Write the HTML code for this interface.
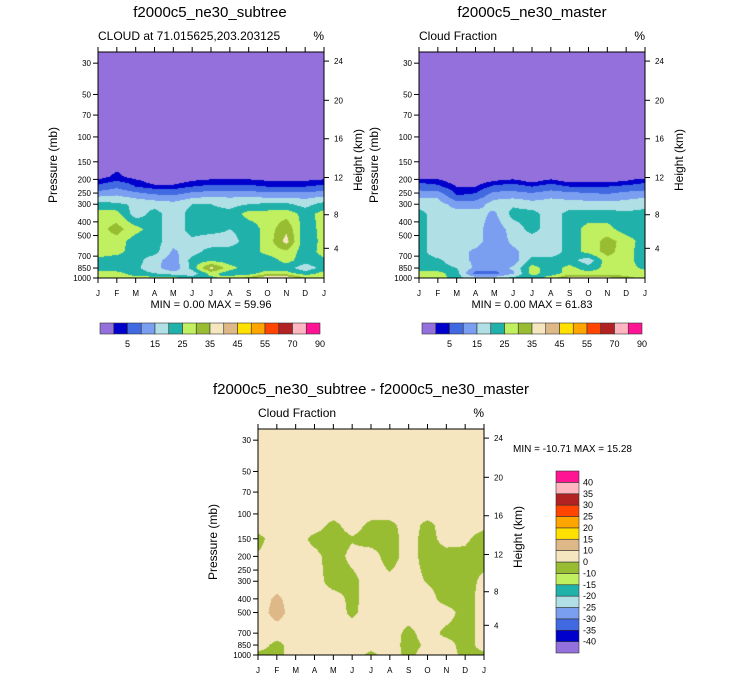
<!DOCTYPE html>
<html><head><meta charset="utf-8">
<style>
body{margin:0;background:#fff;width:733px;height:680px;overflow:hidden;position:relative;font-family:"Liberation Sans",sans-serif}
canvas{position:absolute}
svg{position:absolute;left:0;top:0}
</style></head>
<body>
<canvas id="c1" width="226" height="226" style="left:98px;top:52px"></canvas>
<canvas id="c2" width="226" height="226" style="left:419px;top:52px"></canvas>
<canvas id="c3" width="226" height="226" style="left:258px;top:429px"></canvas>
<svg id="s" width="733" height="680"></svg>
<script>
const months = ["J","F","M","A","M","J","J","A","S","O","N","D","J"];
const pTicks = [30,50,70,100,150,200,250,300,400,500,700,850,1000];
const hTicks = [4,8,12,16,20,24];
const hTickP = [616,356,194,103,55,29];
const topLevels = [2,5,10,15,20,25,30,35,40,45,50,55,60,70,80];
const topColors = ["#9370db","#0000cd","#4169e1","#7b9ff0","#b0e0e6","#20b2aa","#c0ef60","#98bd32","#f5e6c0","#deb887","#ffe000","#ffa500","#ff4500","#b22222","#ffb6c1","#ff1493"];
const topLabels = ["5","15","25","35","45","55","70","90"];
const diffLevels = [-40,-35,-30,-25,-20,-15,-10,0,10,15,20,25,30,35,40];
const diffLabels = ["-40","-35","-30","-25","-20","-15","-10","0","10","15","20","25","30","35","40"];
const gridP = [25,150,190,205,225,260,300,350,450,550,650,750,850,925,1000];
const subtree = [
[0,0,0,0,0,0,0,0,0,0,0,0,0],
[0,0,0,0,0,0,0,0,0,0,0,0,0],
[0,3,0,0,0,0,0,0,0,0,0,0,0],
[3,5,3,0,0,2,3,3,3,2,2,2,3],
[6,9,5,3,3,5,6,6,6,5,5,5,6],
[14,15,13,11,10,13,14,14,14,13,13,13,14],
[22,21,19,18,17,20,20,18,20,21,21,18,22],
[27,27,17,22,17,22,22,22,27,27,28,23,27],
[28,32,27,22,17,22,22,20,22,27,34,22,27],
[28,28,22,22,17,19,17,18,22,27,37,21,27],
[27,27,22,22,14,18,22,22,22,27,29,22,27],
[24,22,22,17,12,22,24,22,22,22,27,22,24],
[22,21,21,17,11,22,37,27,22,22,22,17,22],
[27,27,22,20,17,17,27,22,22,28,27,22,27],
[28,28,27,27,27,22,24,27,32,40,40,30,28]];
const master = [
[0,0,0,0,0,0,0,0,0,0,0,0,0],
[0,0,0,0,0,0,0,0,0,0,0,0,0],
[0,0,0,0,0,0,0,0,0,0,0,0,0],
[4,3,0,0,2,3,1,3,1,1,1,2,4],
[7,6,2,2,6,7,5,7,5,5,5,6,7],
[14,14,5,6,13,13,12,14,13,12,11,13,14],
[18,17,13,13,17,19,17,17,17,17,17,17,18],
[22,17,17,17,14,22,22,17,22,22,22,21,22],
[22,17,17,17,12,17,22,17,22,27,27,22,22],
[22,17,17,17,12,16,17,17,22,27,32,28,22],
[22,17,17,14,12,14,17,17,22,27,32,27,22],
[22,21,17,14,12,12,22,22,22,17,28,27,22],
[22,22,20,14,12,16,27,22,27,22,27,27,24],
[27,27,22,8,8,14,27,22,27,27,27,27,27],
[28,28,22,17,17,22,22,27,37,37,37,32,28]];
const diffP = [25,100,120,150,200,300,400,500,700,850,1000];
const diff = [
[5,5,5,5,5,5,5,5,5,5,5,5,5],
[5,5,5,5,4,5,4,4,5,4,5,5,5],
[5,5,5,5,-3,5,-3,-3,5,-3,5,5,3],
[-3,5,5,-3,-5,-1,-5,-5,5,-5,5,2,-5],
[1,5,5,3,-5,3,5,-5,5,-5,-5,-3,-5],
[5,5,5,5,-5,-3,5,3,5,-1,-5,-5,3],
[5,12,5,5,5,-3,5,5,5,5,-5,-5,5],
[5,14,5,5,5,-2,5,5,5,5,5,-5,5],
[5,5,5,5,5,5,5,5,-3,5,-3,-5,5],
[5,-3,5,5,3,5,5,5,-4,2,5,-5,5],
[-3,-3,5,5,5,5,-3,5,-3,5,5,-3,-3]];

const H=226, PTOP=25;
function yOf(p){return H - H*Math.log10(1000/p)/Math.log10(1000/PTOP);}
function hexRGB(h){return [parseInt(h.slice(1,3),16),parseInt(h.slice(3,5),16),parseInt(h.slice(5,7),16)];}
function classify(v,levels){let i=0;while(i<levels.length&&v>=levels[i])i++;return i;}
function drawContour(id,grid,ps,levels,colors){
  const c=document.getElementById(id),ctx=c.getContext('2d'),img=ctx.createImageData(H,H);
  const ly=ps.map(yOf), rgb=colors.map(hexRGB);
  for(let y=0;y<H;y++){
    let r=0;while(r<ly.length-2&&y+0.5>ly[r+1])r++;
    let t=(y+0.5-ly[r])/(ly[r+1]-ly[r]);t=Math.max(0,Math.min(1,t));
    for(let x=0;x<H;x++){
      const mx=(x+0.5)/H*12;let m=Math.min(11,Math.floor(mx));const u=mx-m;
      const v=(grid[r][m]*(1-u)+grid[r][m+1]*u)*(1-t)+(grid[r+1][m]*(1-u)+grid[r+1][m+1]*u)*t;
      const col=rgb[classify(v,levels)],k=(y*H+x)*4;
      img.data[k]=col[0];img.data[k+1]=col[1];img.data[k+2]=col[2];img.data[k+3]=255;
    }
  }
  ctx.putImageData(img,0,0);
}
drawContour('c1',subtree,gridP,topLevels,topColors);
drawContour('c2',master,gridP,topLevels,topColors);
drawContour('c3',diff,diffP,diffLevels,topColors);

const S=document.getElementById('s'),NS='http://www.w3.org/2000/svg';
function el(tag,attrs,text){const e=document.createElementNS(NS,tag);for(const k in attrs)e.setAttribute(k,attrs[k]);if(text!==undefined)e.textContent=text;S.appendChild(e);return e;}
function txt(x,y,s,size,anchor,name,rot){
  const a={x:x,y:y,'font-size':size,'text-anchor':anchor||'start','font-family':'Liberation Sans, sans-serif',fill:'#000'};
  if(rot)a.transform='rotate(-90 '+x+' '+y+')';
  const e=el('text',a,s);
  
  
  return e;
}
function panel(x0,y0,title,tx,sub,minmax,pre){
  txt(tx,y0-35,title,15,'middle',pre+'-title');
  txt(x0,y0-12,sub,12,'start',pre+'-subtitle');
  txt(x0+H,y0-12,'%',12,'end',pre+'-units');
  const f=el('rect',{x:x0,y:y0,width:H,height:H,fill:'none',stroke:'#000','stroke-width':1});
  
  
  pTicks.forEach(p=>{const y=y0+yOf(p);
    el('line',{x1:x0-5,x2:x0,y1:y,y2:y,stroke:'#000'});
    txt(x0-7,y+3,String(p),8,'end',pre+'-pressure-tick');});
  hTicks.forEach((h,i)=>{const y=y0+yOf(hTickP[i]);
    el('line',{x1:x0+H,x2:x0+H+5,y1:y,y2:y,stroke:'#000'});
    txt(x0+H+10,y+3,String(h),8,'start',pre+'-height-tick');});
  months.forEach((m,i)=>{const x=x0+i*H/12;
    el('line',{x1:x,x2:x,y1:y0+H,y2:y0+H+5,stroke:'#000'});
    el('line',{x1:x,x2:x,y1:y0-5,y2:y0,stroke:'#000'});
    txt(x,y0+H+18,m,8,'middle',pre+'-month-label');});
  txt(x0-41,y0+H/2,'Pressure (mb)',12,'middle',pre+'-y-axis-title',true);
  txt(x0+H+38,y0+H/2-5,'Height (km)',12,'middle',pre+'-height-axis-title',true);
  if(minmax)txt(x0+H/2,y0+H+30,minmax,11,'middle',pre+'-min-max');
}
panel(98,52,'f2000c5_ne30_subtree',210,'CLOUD at 71.015625,203.203125','MIN =   0.00 MAX =  59.96','subtree');
panel(419,52,'f2000c5_ne30_master',532,'Cloud Fraction','MIN =   0.00 MAX =  61.83','master');
panel(258,429,'f2000c5_ne30_subtree - f2000c5_ne30_master',371,'Cloud Fraction',null,'diff');
txt(513,452,'MIN = -10.71 MAX =  15.28',10,'start','diff-min-max');

function hbar(x0,y0,w,h,pre){
  const bw=w/16;
  topColors.forEach((c,i)=>{const r=el('rect',{x:x0+i*bw,y:y0,width:bw,height:h,fill:c,stroke:'#333','stroke-width':0.6});
    
    });
  topLabels.forEach((l,i)=>txt(x0+(2+2*i)*bw,y0+h+13,l,9,'middle',pre+'-colorbar-label'));
}
hbar(100,323,220,11,'subtree');
hbar(422,323,220,11,'master');
const vx=556,vy=471,vw=23,vh=182,vb=vh/16;
topColors.forEach((c,i)=>{const r=el('rect',{x:vx,y:vy+vh-(i+1)*vb,width:vw,height:vb,fill:c,stroke:'#333','stroke-width':0.6});
  
  });
diffLabels.forEach((l,i)=>txt(vx+vw+4,vy+vh-(i+1)*vb+3,l,9,'start','diff-colorbar-label'));
</script>
</body></html>
